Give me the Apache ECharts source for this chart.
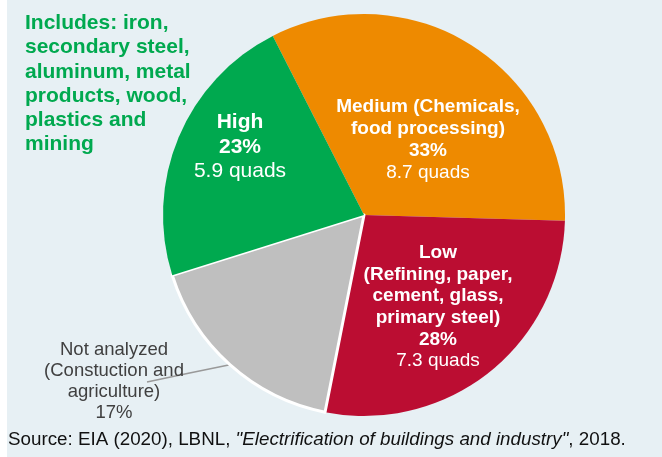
<!DOCTYPE html>
<html><head><meta charset="utf-8">
<script src="https://cdn.jsdelivr.net/npm/echarts@6/dist/echarts.min.js"></script>
<style>html,body{margin:0;padding:0;background:#fff}#c{width:662px;height:457px}</style>
</head><body><div id="c"></div>
<script>
// ---- data ----
const categories = ['Medium', 'Low', 'Not analyzed', 'High'];
const descriptions = [
  ['Medium (Chemicals,', 'food processing)'],
  ['Low', '(Refining, paper,', 'cement, glass,', 'primary steel)'],
  ['Not analyzed', '(Constuction and', 'agriculture)'],
  ['High']
];
const quads = [8.7, 7.3, 4.5, 5.9];
const pctLabels = ['33%', '28%', '17%', '23%'];
const quadLabels = ['8.7 quads', '7.3 quads', '', '5.9 quads'];
const noteLines = ['Includes: iron,', 'secondary steel,', 'aluminum, metal', 'products, wood,', 'plastics and', 'mining'];
const sourceNormal1 = 'Source: EIA (2020), LBNL, ';
const sourceItalic = '"Electrification of buildings and industry"';
const sourceNormal2 = ', 2018.';

// ---- style ----
const FONT = '"Liberation Sans", Arial, sans-serif';
const colors = ['#ee8a00', '#bb0d32', '#bfbfbf', '#00a94f'];
const labelPos = [[428, 140], [438, 307], [114, 381], [240, 147]];
const lineHeights = [22, 21.6, 21, 24.5];
const fontSizes = [19, 19, 18.5, 21];

const chart = echarts.init(document.getElementById('c'));

const data = categories.map((c, i) => {
  const inside = i !== 2;
  return {
    name: c,
    value: quads[i],
    itemStyle: i === 2
      ? { color: colors[i], borderColor: '#ffffff', borderWidth: 3 }
      : { color: colors[i], borderWidth: 0 },
    label: {
      position: inside ? 'inside' : 'outside',
      formatter: () => {
        const key = inside ? 'b' : 'g';
        const lines = descriptions[i].map(t => '{' + key + '|' + t + '}');
        lines.push('{' + key + '|' + pctLabels[i] + '}');
        if (quadLabels[i]) lines.push('{n|' + quadLabels[i] + '}');
        return lines.join('\n');
      },
      rich: {
        b: { color: '#ffffff', fontWeight: 'bold', fontSize: fontSizes[i], fontFamily: FONT, lineHeight: lineHeights[i], align: 'center' },
        n: { color: '#ffffff', fontWeight: 'normal', fontSize: fontSizes[i], fontFamily: FONT, lineHeight: lineHeights[i], align: 'center' },
        g: { color: '#404040', fontWeight: 'normal', fontSize: fontSizes[i], fontFamily: FONT, lineHeight: lineHeights[i], align: 'center' }
      }
    },
    labelLine: inside ? { show: false } : { show: true, length: 10, length2: 30, lineStyle: { color: '#999999', width: 1.5 } }
  };
});

function sectorEdgeMid(idx) {
  const model = chart.getModel();
  if (!model) return null;
  const s = model.getSeriesByIndex(0);
  if (!s) return null;
  const lay = s.getData().getItemLayout(idx);
  if (!lay) return null;
  const mid = (lay.startAngle + lay.endAngle) / 2;
  return [lay.cx + lay.r * Math.cos(mid), lay.cy + lay.r * Math.sin(mid)];
}

chart.setOption({
  animation: false,
  graphic: [
    { type: 'rect', left: 7, top: 0, z: -10, shape: { width: 655, height: 457 }, style: { fill: '#e7f0f4' } },
    {
      type: 'text', left: 25, top: 11, z: 10,
      style: {
        text: noteLines.join('\n'),
        fill: '#00a94f', font: 'bold 21px ' + FONT, lineHeight: 24.3
      }
    },
    {
      type: 'text', left: 8, top: 430, z: 10,
      style: {
        text: '{n|' + sourceNormal1 + '}{i|' + sourceItalic + '}{n|' + sourceNormal2 + '}',
        rich: {
          n: { fill: '#111111', fontSize: 18.8, fontFamily: FONT },
          i: { fill: '#111111', fontSize: 18.8, fontFamily: FONT, fontStyle: 'italic' }
        }
      }
    }
  ],
  series: [{
    type: 'pie',
    center: [364, 215],
    radius: [0, 201],
    startAngle: 117,
    clockwise: true,
    avoidLabelOverlap: false,
    data: data,
    labelLayout: function (p) {
      const pos = labelPos[p.dataIndex];
      const out = { x: pos[0], y: pos[1], align: 'center', verticalAlign: 'middle' };
      if (p.dataIndex === 2) {
        const a = sectorEdgeMid(2) || (p.labelLinePoints && p.labelLinePoints[0]);
        if (a) {
          const end = [pos[0] + 33, pos[1] + 1];
          out.labelLinePoints = [a, [(a[0] + end[0]) / 2, (a[1] + end[1]) / 2], end];
        }
      }
      return out;
    }
  }]
});
</script></body></html>
